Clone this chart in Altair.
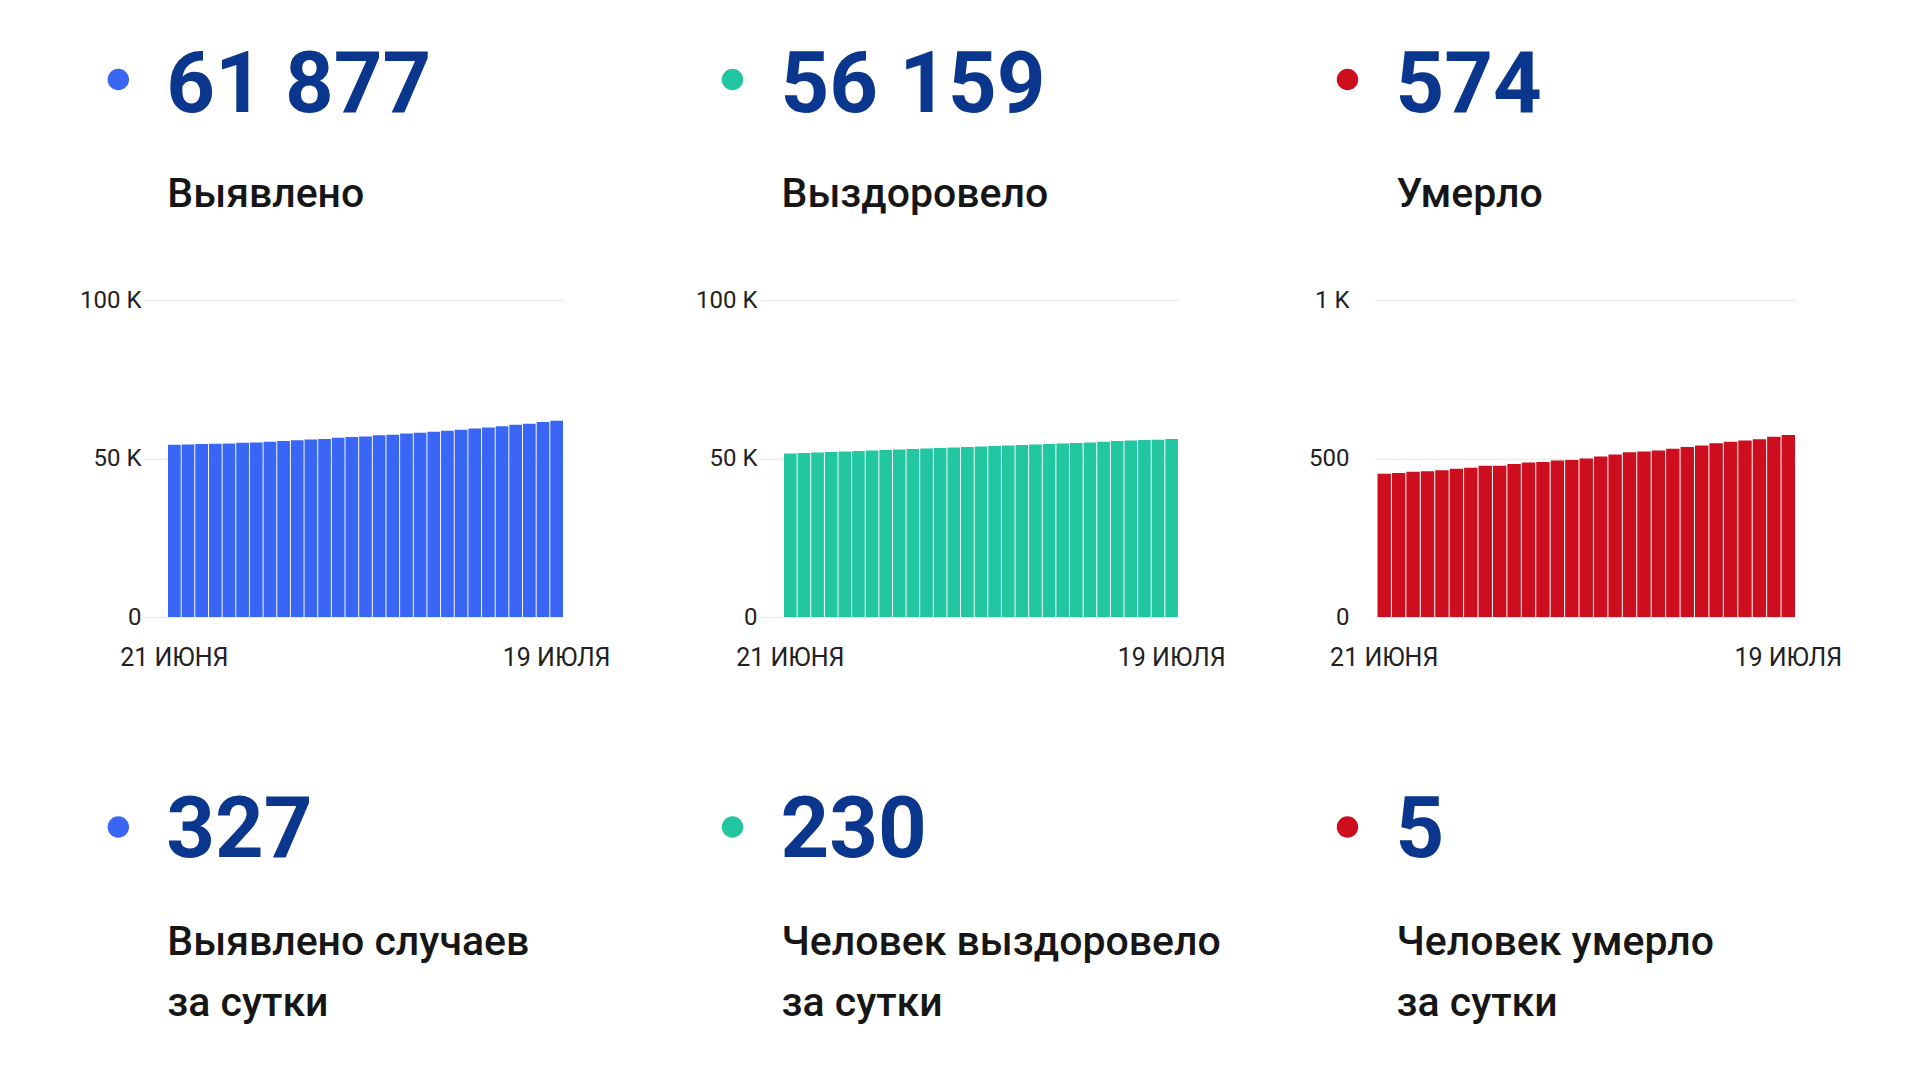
import altair as alt
import pandas as pd

# ---------------- data ----------------
DATES = [
    "21 июня", "22 июня", "23 июня", "24 июня", "25 июня", "26 июня", "27 июня",
    "28 июня", "29 июня", "30 июня", "1 июля", "2 июля", "3 июля", "4 июля",
    "5 июля", "6 июля", "7 июля", "8 июля", "9 июля", "10 июля", "11 июля",
    "12 июля", "13 июля", "14 июля", "15 июля", "16 июля", "17 июля", "18 июля",
    "19 июля",
]

CONFIRMED = [
    54300, 54420, 54540, 54650, 54760, 54970, 55080, 55300, 55530, 55750,
    55970, 56190, 56520, 56750, 56970, 57310, 57530, 57860, 58090, 58420,
    58760, 59090, 59430, 59760, 60200, 60650, 60990, 61550, 61877,
]
RECOVERED = [
    51600, 51750, 51900, 52060, 52200, 52370, 52520, 52690, 52840, 53000,
    53150, 53320, 53480, 53630, 53800, 53950, 54120, 54270, 54440, 54590,
    54760, 54910, 55080, 55300, 55520, 55680, 55800, 55929, 56159,
]
DEATHS = [
    452, 454, 458, 460, 463, 468, 471, 477, 477, 483,
    487, 489, 494, 495, 500, 506, 513, 520, 522, 525,
    531, 536, 541, 548, 553, 557, 561, 569, 574,
]

TOTALS = [61877, 56159, 574]
DAILY = [327, 230, 5]
TITLES = ["Выявлено", "Выздоровело", "Умерло"]
DAILY_TITLES = [
    "Выявлено случаев\nза сутки",
    "Человек выздоровело\nза сутки",
    "Человек умерло\nза сутки",
]
Y_MAX = [100000, 100000, 1000]
Y_TICKS = [[0, 50000, 100000], [0, 50000, 100000], [0, 500, 1000]]

# ---------------- style / layout ----------------
COLORS = ["#3a66f5", "#22c6a0", "#cc0e1f"]
NAVY = "#0b368d"
TEXT = "#161616"
FONT = "Roboto"

PLOT_LEFT = [143, 759, 1374]        # absolute left edge of each plot
PLOT_W = [420, 419, 421]
PLOT_TOP = 300
PLOT_H = 317
GAP = 196
BAR_GAP_LEFT = [25, 25, 3.5]        # empty grid part left of first bar
Y_AXIS_OFFSET = [0, 0, 23]
PAD_INNER = 0.07
DOT_X = [118.3, 732.5, 1347.5]      # absolute centres of the dots
CANVAS_W, CANVAS_H = 1920, 1080

SERIES = [CONFIRMED, RECOVERED, DEATHS]


def fmt(v):
    return f"{v:,}".replace(",", " ")


def column(i):
    n = len(DATES)
    w = PLOT_W[i]
    step = (w - BAR_GAP_LEFT[i]) / (n - PAD_INNER)
    pad_outer = (w / step - (n - PAD_INNER)) / 2

    df = pd.DataFrame({"date": DATES, "value": SERIES[i]})
    bars = alt.Chart(df).mark_bar(color=COLORS[i]).encode(
        x=alt.X(
            "date:N", sort=None,
            scale=alt.Scale(paddingInner=PAD_INNER, paddingOuter=pad_outer,
                            align=1, round=False),
            axis=alt.Axis(
                values=[DATES[0], DATES[-1]], labelExpr="upper(datum.label)",
                title=None, ticks=False, domain=False, grid=False, labelAngle=0,
                labelFontSize=25, labelFont=FONT, labelColor="#222222",
                labelPadding=28,
            ),
        ),
        y=alt.Y(
            "value:Q",
            scale=alt.Scale(domain=[0, Y_MAX[i]], nice=False),
            axis=alt.Axis(
                values=Y_TICKS[i],
                labelExpr="datum.value >= 1000 ? format(datum.value / 1000, 'd') + ' K' : format(datum.value, 'd')",
                title=None, ticks=False, domain=False, grid=True,
                gridColor="#ececec", gridWidth=1.5,
                labelFontSize=24, labelFont=FONT, labelColor="#222222",
                labelPadding=2, offset=Y_AXIS_OFFSET[i],
            ),
        ),
        tooltip=["date:N", "value:Q"],
    ).properties(width=w, height=PLOT_H)

    left = PLOT_LEFT[i]
    dot_x = DOT_X[i] - left
    num_x = DOT_X[i] + 48 - left
    lab_x = DOT_X[i] + 49 - left

    info = pd.DataFrame({
        "total": [fmt(TOTALS[i])],
        "daily": [fmt(DAILY[i])],
        "title": [TITLES[i]],
        "dtitle": [DAILY_TITLES[i]],
    })
    base = alt.Chart(info)

    dot_top = base.mark_circle(size=460, opacity=1, color=COLORS[i]).encode(
        x=alt.value(dot_x), y=alt.value(79.5 - PLOT_TOP))
    dot_bot = base.mark_circle(size=460, opacity=1, color=COLORS[i]).encode(
        x=alt.value(dot_x), y=alt.value(827 - PLOT_TOP))

    big = dict(align="left", baseline="alphabetic", font=FONT, fontSize=85,
               fontWeight="bold", color=NAVY)
    total_t = base.mark_text(**big).encode(
        x=alt.value(num_x), y=alt.value(111.7 - PLOT_TOP), text="total:N")
    daily_t = base.mark_text(**big).encode(
        x=alt.value(num_x), y=alt.value(857.3 - PLOT_TOP), text="daily:N")

    lab = dict(align="left", baseline="alphabetic", font=FONT, fontSize=41,
               fontWeight=500, color=TEXT)
    title_t = base.mark_text(**lab).encode(
        x=alt.value(lab_x), y=alt.value(206.5 - PLOT_TOP), text="title:N")
    dtitle_t = base.mark_text(lineBreak="\n", lineHeight=61, **lab).encode(
        x=alt.value(lab_x), y=alt.value(955 - PLOT_TOP), text="dtitle:N")

    layers = [bars, dot_top, dot_bot, total_t, daily_t, title_t, dtitle_t]

    # invisible corner anchors so the page is exactly the canvas size
    if i == 0:
        layers.append(base.mark_rule(strokeWidth=0, opacity=0).encode(
            x=alt.value(-left), x2=alt.value(-left),
            y=alt.value(-PLOT_TOP), y2=alt.value(-PLOT_TOP)))
    if i == 2:
        layers.append(base.mark_rule(strokeWidth=0, opacity=0).encode(
            x=alt.value(CANVAS_W - left), x2=alt.value(CANVAS_W - left),
            y=alt.value(CANVAS_H - PLOT_TOP), y2=alt.value(CANVAS_H - PLOT_TOP)))

    return alt.layer(*layers)


chart = alt.hconcat(
    column(0), column(1), column(2), spacing=GAP, bounds="flush"
).properties(
    padding=0, background="white"
).configure_view(
    strokeWidth=0
)

chart.save("out.html", embed_options={"renderer": "svg", "actions": False})
